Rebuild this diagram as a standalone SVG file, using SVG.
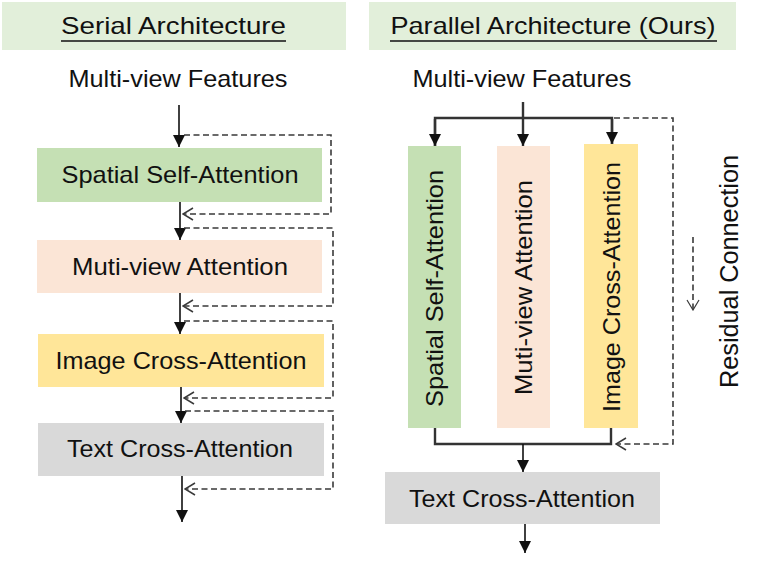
<svg xmlns="http://www.w3.org/2000/svg" width="761" height="570" viewBox="0 0 761 570">
<defs>
<style>
.t{font-family:"Liberation Sans",Arial,sans-serif;fill:#111;}
.lbl{font-size:24px;text-anchor:middle;}
.ttl{font-size:24px;text-anchor:middle;}
.sol{fill:none;stroke:#111;stroke-width:1.6;}
.solr{fill:none;stroke:#333;stroke-width:2.4;}
.dash{fill:none;stroke:#3a3a3a;stroke-width:1.6;stroke-dasharray:6 3.5;}
</style>
<marker id="ah" viewBox="0 0 12 12" refX="12" refY="6" markerWidth="12" markerHeight="12" markerUnits="userSpaceOnUse" orient="auto">
<path d="M0,0 L12,6 L0,12 Z" fill="#111"/>
</marker>
<marker id="oh" viewBox="0 0 12 14" refX="11" refY="7" markerWidth="12" markerHeight="14" markerUnits="userSpaceOnUse" orient="auto">
<path d="M1,1 L11,7 L1,13" fill="none" stroke="#3a3a3a" stroke-width="1.5"/>
</marker>
<marker id="ohd" viewBox="0 0 14 12" refX="7" refY="11" markerWidth="14" markerHeight="12" markerUnits="userSpaceOnUse" orient="0">
<path d="M1,1 L7,11 L13,1" fill="none" stroke="#3a3a3a" stroke-width="1.2"/>
</marker>
</defs>
<rect width="761" height="570" fill="#fff"/>

<g id="title-serial">
<rect x="2" y="2" width="344" height="48" fill="#E2EFDA"/>
<text class="t ttl" x="173.5" y="34" textLength="225" lengthAdjust="spacingAndGlyphs">Serial Architecture</text>
<line x1="61" y1="41" x2="286" y2="41" stroke="#111" stroke-width="1.3"/>
</g>
<g id="title-parallel">
<rect x="369" y="2" width="367" height="48" fill="#E2EFDA"/>
<text class="t ttl" x="553" y="34" textLength="325" lengthAdjust="spacingAndGlyphs">Parallel Architecture (Ours)</text>
<line x1="390" y1="41" x2="717" y2="41" stroke="#111" stroke-width="1.3"/>
</g>

<g id="serial-input"><text class="t lbl" x="178" y="87" textLength="219" lengthAdjust="spacingAndGlyphs">Multi-view Features</text></g>
<g id="serial-ssa">
<rect x="37" y="148" width="285" height="54" fill="#C5E0B4"/>
<text class="t lbl" x="180" y="183" textLength="237" lengthAdjust="spacingAndGlyphs">Spatial Self-Attention</text>
</g>
<g id="serial-mva">
<rect x="37" y="240" width="285" height="53" fill="#FBE5D6"/>
<text class="t lbl" x="180" y="275" textLength="216" lengthAdjust="spacingAndGlyphs">Muti-view Attention</text>
</g>
<g id="serial-ica">
<rect x="38" y="334" width="286" height="53" fill="#FFE699"/>
<text class="t lbl" x="181" y="369" textLength="251" lengthAdjust="spacingAndGlyphs">Image Cross-Attention</text>
</g>
<g id="serial-tca">
<rect x="38" y="423" width="286" height="53" fill="#D9D9D9"/>
<text class="t lbl" x="180" y="457" textLength="226" lengthAdjust="spacingAndGlyphs">Text Cross-Attention</text>
</g>

<g id="parallel-input"><text class="t lbl" x="522" y="87" textLength="219" lengthAdjust="spacingAndGlyphs">Multi-view Features</text></g>
<g id="parallel-ssa">
<rect x="408" y="146" width="53" height="282" fill="#C5E0B4"/>
<text class="t lbl" transform="translate(443,288.5) rotate(-90)" textLength="237" lengthAdjust="spacingAndGlyphs">Spatial Self-Attention</text>
</g>
<g id="parallel-mva">
<rect x="497" y="146" width="53" height="282" fill="#FBE5D6"/>
<text class="t lbl" transform="translate(532,287.5) rotate(-90)" textLength="215" lengthAdjust="spacingAndGlyphs">Muti-view Attention</text>
</g>
<g id="parallel-ica">
<rect x="584" y="144" width="54" height="284" fill="#FFE699"/>
<text class="t lbl" transform="translate(620,287) rotate(-90)" textLength="250" lengthAdjust="spacingAndGlyphs">Image Cross-Attention</text>
</g>
<g id="parallel-tca">
<rect x="385" y="472" width="275" height="52" fill="#D9D9D9"/>
<text class="t lbl" x="522" y="507" textLength="226" lengthAdjust="spacingAndGlyphs">Text Cross-Attention</text>
</g>
<g id="legend">
<text class="t" font-size="25" text-anchor="middle" transform="translate(738,271.5) rotate(-90)" textLength="233" lengthAdjust="spacingAndGlyphs">Residual Connection</text>
</g>

<g id="connectors">
<path class="sol" d="M179,105 V147" marker-end="url(#ah)"/>
<path class="sol" d="M180,202 V240" marker-end="url(#ah)"/>
<path class="sol" d="M180,293 V334" marker-end="url(#ah)"/>
<path class="sol" d="M181,387 V423" marker-end="url(#ah)"/>
<path class="sol" d="M182,476 V522" marker-end="url(#ah)"/>
<path class="dash" d="M184,135 H331 V214 H183" marker-end="url(#oh)"/>
<path class="dash" d="M184,228 H333 V306 H183" marker-end="url(#oh)"/>
<path class="dash" d="M184,321 H333 V398 H184" marker-end="url(#oh)"/>
<path class="dash" d="M185,411 H333 V489 H185" marker-end="url(#oh)"/>

<path class="solr" d="M435,146 V118 H612 V144"/>
<path class="solr" d="M523,102 V146" marker-end="url(#ah)"/>
<path class="solr" d="M435,119 V146" marker-end="url(#ah)"/>
<path class="solr" d="M612,119 V144" marker-end="url(#ah)"/>
<path class="dash" d="M614,118 H673 V444 H616" marker-end="url(#oh)"/>
<path class="solr" d="M435,428 V444 H611 V428"/>
<path class="sol" d="M523,444 V472" marker-end="url(#ah)"/>
<path class="sol" d="M525,524 V553" marker-end="url(#ah)"/>
<path class="dash" d="M693,237 V310" stroke-width="1.2" marker-end="url(#ohd)"/>
</g>
</svg>
